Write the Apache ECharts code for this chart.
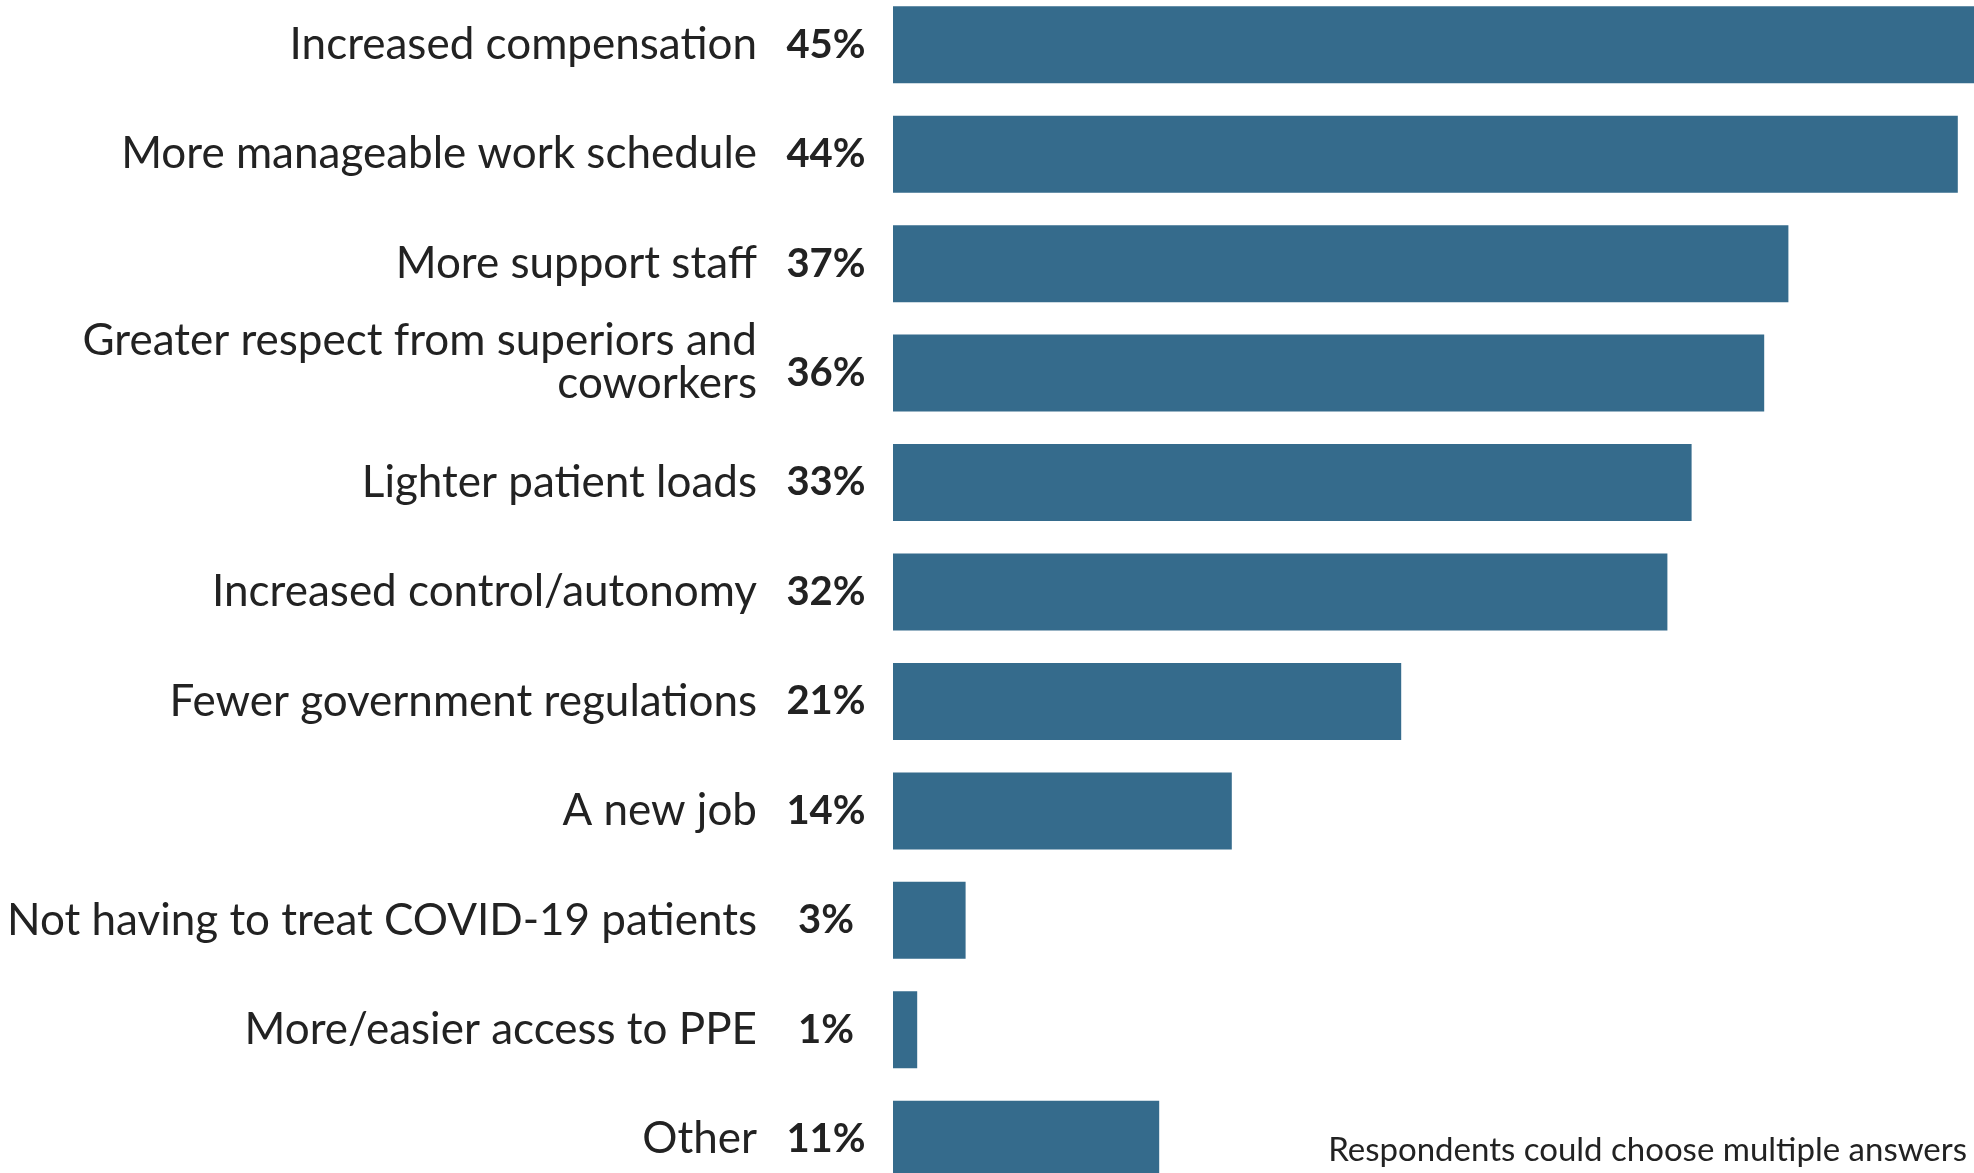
<!DOCTYPE html>
<html>
<head>
<meta charset="utf-8">
<title>What would make you stay</title>
<script src="https://cdn.jsdelivr.net/npm/echarts@6/dist/echarts.min.js"></script>
<style>
  html, body { margin: 0; padding: 0; background: #ffffff; overflow: hidden; }
  /* the plot runs slightly past the page edges, so the canvas is larger than the view */
  #chart { position: absolute; left: 0; top: -10px; width: 1982px; height: 1204px; }
</style>
</head>
<body>
<div id="chart"></div>
<script>
// Survey answers, top to bottom
const categories = [
  'Increased compensation',
  'More manageable work schedule',
  'More support staff',
  'Greater respect from superiors and\ncoworkers',
  'Lighter patient loads',
  'Increased control/autonomy',
  'Fewer government regulations',
  'A new job',
  'Not having to treat COVID-19 patients',
  'More/easier access to PPE',
  'Other'
];
// Share of respondents (%)
const shares = [45, 44, 37, 36, 33, 32, 21, 14, 3, 1, 11];
const footnote = 'Respondents could choose multiple answers';

const barColor = '#356b8c';
const textColor = '#222222';

const chart = echarts.init(document.getElementById('chart'), null, { renderer: 'canvas' });

chart.setOption({
  backgroundColor: '#ffffff',
  animation: false,
  grid: { left: 893, right: 0, top: 0, bottom: 0, containLabel: false },
  xAxis: {
    type: 'value',
    min: 0,
    max: 45,
    show: false
  },
  yAxis: {
    type: 'category',
    inverse: true,
    data: categories,
    axisLine: { show: false },
    axisTick: { show: false },
    splitLine: { show: false },
    axisLabel: {
      margin: 136,
      color: textColor,
      fontFamily: 'Lato',
      fontSize: 44,
      lineHeight: 43,
      align: 'right',
      formatter: function (value) {
        return value.indexOf('\n') >= 0 ? '{two|' + value + '}' : value;
      },
      rich: {
        two: {
          fontFamily: 'Lato',
          fontSize: 44,
          lineHeight: 43,
          color: textColor,
          align: 'right',
          padding: [0, 0, 22, 0]
        }
      }
    }
  },
  series: [{
    type: 'bar',
    data: shares,
    barWidth: 77,
    itemStyle: { color: barColor },
    label: {
      show: true,
      position: [-67, '50%'],
      align: 'center',
      verticalAlign: 'middle',
      formatter: '{c}%',
      color: textColor,
      fontFamily: 'Lato',
      fontWeight: 'bold',
      fontSize: 40
    }
  }],
  graphic: [{
    type: 'text',
    right: 15,
    top: 1144,
    style: {
      text: footnote,
      fill: textColor,
      font: '33px Lato'
    }
  }]
});
</script>
</body>
</html>
